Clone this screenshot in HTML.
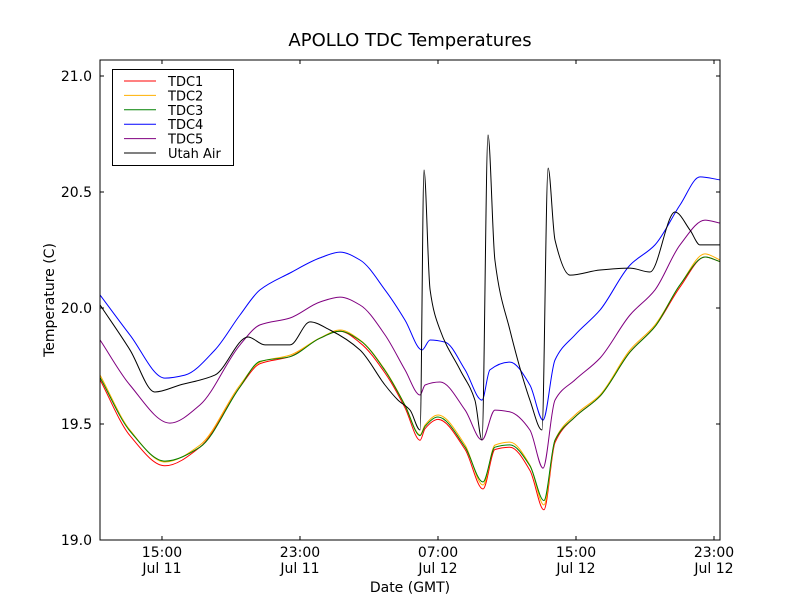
<!DOCTYPE html>
<html><head><meta charset="utf-8"><style>
body{margin:0;background:#fff;}
svg{font-family:"DejaVu Sans","Liberation Sans",sans-serif;}
</style></head><body>
<svg id="chart" width="800" height="600" xmlns="http://www.w3.org/2000/svg">
<rect width="800" height="600" fill="#fff"/>
<text x="410" y="46" font-size="18" text-anchor="middle">APOLLO TDC Temperatures</text>
<defs><clipPath id="clip"><rect x="100" y="60" width="620" height="480"/></clipPath></defs>
<g id="series" clip-path="url(#clip)"></g>
<rect x="100" y="60" width="620" height="480" fill="none" stroke="#000" stroke-width="1"/>
<g id="axes"></g>
<text x="410" y="592" font-size="14" text-anchor="middle">Date (GMT)</text>
<text transform="translate(54,300) rotate(-90)" font-size="14" text-anchor="middle">Temperature (C)</text>
<g id="legend"></g>
</svg>
<script>
const yTicks=[19.0,19.5,20.0,20.5,21.0];
const yTickLabels=["19.0","19.5","20.0","20.5","21.0"];
const xTicks=[15,23,31,39,47];
const xTickLabels1=["15:00","23:00","07:00","15:00","23:00"];
const xTickLabels2=["Jul 11","Jul 11","Jul 12","Jul 12","Jul 12"];
const seriesNames=["TDC1","TDC2","TDC3","TDC4","TDC5","Utah Air"];
const seriesColors=["#ff0000","#ffb000","#008000","#0000ff","#800080","#000000"];
const hTDC=[11.41,13.14,15.17,17.2,19.52,20.68,22.42,24.16,25.32,26.48,27.93,29.09,29.96,30.25,31.0,32.57,33.61,34.3,35.17,36.33,37.14,37.78,38.94,40.39,42.13,43.58,45.03,46.48,47.35];
const tdc1=[19.69,19.45,19.32,19.40,19.66,19.76,19.79,19.87,19.90,19.85,19.72,19.57,19.43,19.48,19.52,19.39,19.22,19.39,19.40,19.30,19.13,19.42,19.53,19.62,19.81,19.92,20.09,20.22,20.20];
const tdc2=[19.711,19.474,19.336,19.409,19.668,19.767,19.797,19.871,19.905,19.862,19.733,19.582,19.453,19.496,19.539,19.409,19.237,19.409,19.422,19.323,19.151,19.431,19.539,19.625,19.819,19.927,20.099,20.233,20.207];
const tdc3=[19.70,19.47,19.34,19.40,19.66,19.77,19.79,19.87,19.90,19.86,19.73,19.58,19.45,19.49,19.53,19.40,19.25,19.40,19.41,19.32,19.17,19.43,19.53,19.62,19.81,19.92,20.10,20.22,20.20];
const hTDC4=[11.41,13.14,15.17,16.33,18.07,19.52,20.68,22.42,24.16,25.32,26.48,27.93,29.09,30.07,30.54,31.41,32.57,33.55,34.01,35.17,36.33,37.09,37.78,38.94,40.39,42.13,43.58,45.03,46.19,47.35];
const tdc4=[20.056,19.884,19.698,19.711,19.819,19.97,20.078,20.151,20.216,20.241,20.207,20.078,19.948,19.819,19.862,19.853,19.733,19.603,19.733,19.767,19.668,19.517,19.776,19.884,19.991,20.185,20.272,20.444,20.565,20.552];
const hTDC5=[11.41,13.14,15.46,17.2,19.52,20.68,22.42,24.16,25.32,26.48,27.93,29.09,29.96,30.25,31.12,32.57,33.55,34.3,35.17,36.33,37.09,37.78,38.94,40.39,42.13,43.58,45.03,46.48,47.35];
const tdc5=[19.862,19.668,19.504,19.582,19.841,19.927,19.957,20.026,20.047,20.013,19.884,19.733,19.625,19.668,19.681,19.56,19.431,19.56,19.552,19.474,19.31,19.603,19.69,19.784,19.97,20.078,20.272,20.379,20.366];
const hUtah=[11.41,13.14,14.59,16.04,18.07,19.99,20.97,22.42,23.58,24.74,26.48,27.93,28.68,29.38,29.96,30.19,30.54,31.12,32.28,33.14,33.55,33.9,34.3,35.17,36.33,37.03,37.38,37.78,38.65,40.39,42.13,43.29,44.74,45.61,46.19,47.35];
const utah=[20.013,19.82,19.638,19.668,19.711,19.875,19.841,19.841,19.94,19.905,19.819,19.668,19.603,19.56,19.474,20.595,20.078,19.905,19.733,19.603,19.431,20.746,20.207,19.905,19.603,19.474,20.603,20.293,20.142,20.164,20.172,20.155,20.414,20.336,20.272,20.272];

const NS="http://www.w3.org/2000/svg";
const X0=100,X1=720,Y0=540,Y1=60;
const hMin=11.4067,hMax=47.3478,vMin=19.0,vMax=21.069;
function xs(h){return X0+(h-hMin)/(hMax-hMin)*(X1-X0);}
function ys(v){return Y0-(v-vMin)/(vMax-vMin)*(Y0-Y1);}
function mk(tag,attrs,parent){const e=document.createElementNS(NS,tag);for(const k in attrs)e.setAttribute(k,attrs[k]);parent.appendChild(e);return e;}

function monotonePath(px,py){
  const n=px.length;const d=[],m=new Array(n);
  for(let i=0;i<n-1;i++)d.push((py[i+1]-py[i])/(px[i+1]-px[i]));
  m[0]=d[0];m[n-1]=d[n-2];
  for(let i=1;i<n-1;i++){
    if(d[i-1]*d[i]<=0)m[i]=0;
    else{const h0=px[i]-px[i-1],h1=px[i+1]-px[i];
      m[i]=3*(h0+h1)/((2*h1+h0)/d[i-1]+(h1+2*h0)/d[i]);}
  }
  let s=`M${px[0].toFixed(1)},${py[0].toFixed(1)}`;
  for(let i=0;i<n-1;i++){
    const h=(px[i+1]-px[i])/3;
    s+=`C${(px[i]+h).toFixed(1)},${(py[i]+m[i]*h).toFixed(1)} ${(px[i+1]-h).toFixed(1)},${(py[i+1]-m[i+1]*h).toFixed(1)} ${px[i+1].toFixed(1)},${py[i+1].toFixed(1)}`;
  }
  return s;
}

const axes=document.getElementById('axes');
yTicks.forEach((v,i)=>{
  const y=ys(v);
  const t=mk('path',{d:`M${X0},${y}h4M${X1},${y}h-4`,stroke:'#000','stroke-width':1},axes);
  
  
  const l=mk('text',{x:X0-8,y:y+5,'font-size':14,'text-anchor':'end'},axes);
  l.textContent=yTickLabels[i];
  
  
});
xTicks.forEach((h,i)=>{
  const x=xs(h);
  const t=mk('path',{d:`M${x},${Y0}v-4M${x},${Y1}v4`,stroke:'#000','stroke-width':1},axes);
  
  
  const l=mk('text',{x:x,y:Y0+17,'font-size':14,'text-anchor':'middle'},axes);
  l.textContent=xTickLabels1[i];
  
  
  const l2=mk('text',{x:x,y:Y0+33,'font-size':14,'text-anchor':'middle'},axes);
  l2.textContent=xTickLabels2[i];
  
  
});

const sg=document.getElementById('series');
const allH=[hTDC,hTDC,hTDC,hTDC4,hTDC5,hUtah];
const allV=[tdc1,tdc2,tdc3,tdc4,tdc5,utah];
allV.forEach((vals,si)=>{
  const hs=allH[si];
  const d=monotonePath(hs.map(xs),vals.map(ys));
  const p=mk('path',{d:d,fill:'none',stroke:seriesColors[si],'stroke-width':1},sg);
  
  
});

const lg=document.getElementById('legend');
mk('rect',{x:112.5,y:69.5,width:121,height:96,fill:'#fff',stroke:'#000','stroke-width':1},lg);
seriesNames.forEach((n,i)=>{
  const y=81+i*14.4;
  const ln=mk('line',{x1:124,x2:156,y1:y,y2:y,stroke:seriesColors[i],'stroke-width':1},lg);
  
  
  const t=mk('text',{x:168,y:y+5,'font-size':13},lg);
  t.textContent=n;
  
  
});
</script>
</body></html>
